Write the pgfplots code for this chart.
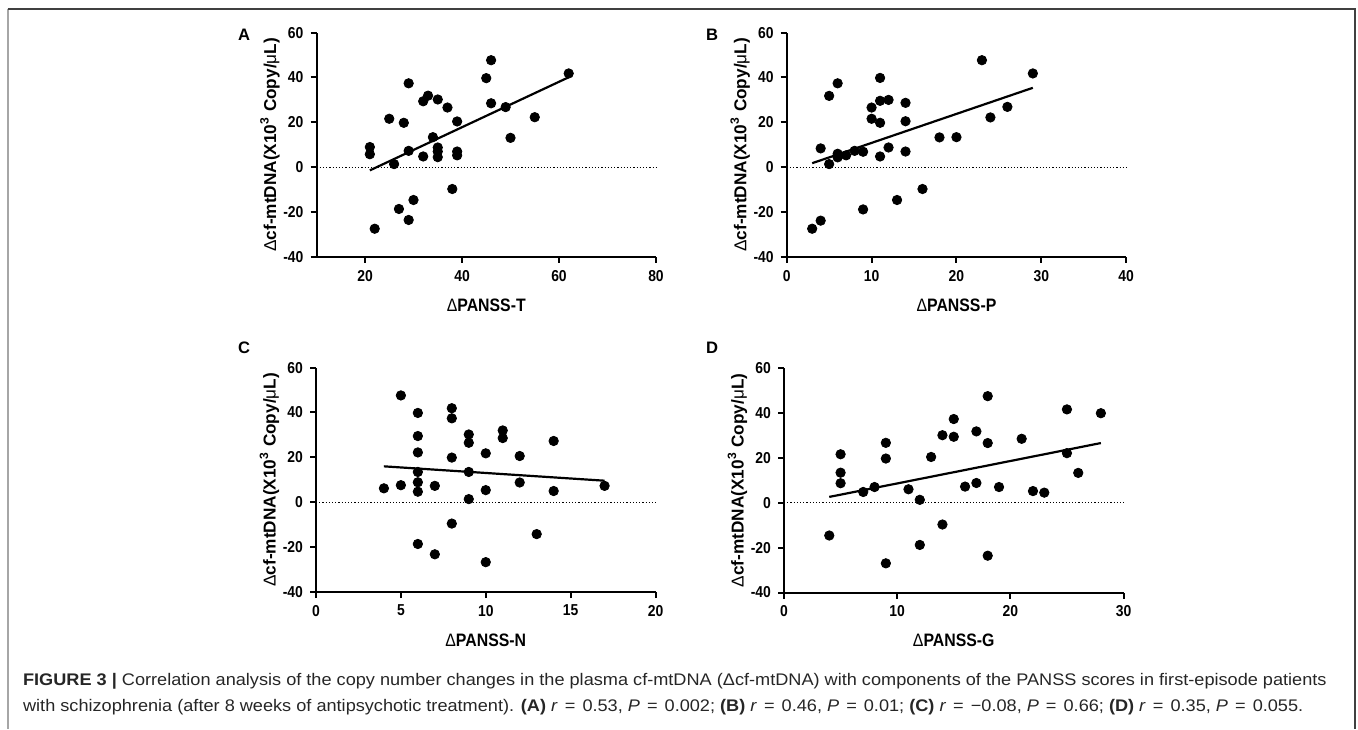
\documentclass[border=0pt]{standalone}
\usepackage{pgfplots}
\pgfplotsset{compat=1.18}
\usepackage{pgfplotstable}
\usepackage{fontspec}
\setmainfont{Liberation Sans}
\newfontfamily\panelfont[FakeStretch=0.88]{Liberation Sans}
\newfontfamily\capfont[FakeStretch=1.08]{Liberation Sans}
\newcommand{\eq}{\kern1pt=\kern1pt}

\pgfplotstableread{
x y
21 9.0
21 5.8
22 -27.4
25 21.6
26 1.4
27 -18.6
28 19.8
29 37.4
29 7.3
29 -23.5
30 -14.6
32 29.4
32 4.8
33 31.9
34 13.4
35 30.2
35 8.8
35 7.0
35 4.5
37 26.6
38 -9.7
39 20.4
39 7.0
39 5.3
45 39.7
46 47.7
46 28.5
49 26.8
50 13.1
55 22.3
62 41.8
}\dataA

\pgfplotstableread{
x y
3 -27.4
4 8.4
4 -23.8
5 31.8
5 1.4
6 37.4
6 6.0
6 4.4
7 5.3
8 7.3
9 6.9
9 -18.8
10 26.6
10 21.6
11 39.8
11 29.6
11 19.8
11 4.8
12 30.0
12 8.8
13 -14.6
14 28.7
14 20.5
14 7.0
16 -9.7
18 13.3
20 13.4
23 47.7
24 22.2
26 26.9
29 41.8
}\dataB

\pgfplotstableread{
x y
4 6.2
5 47.6
5 7.6
6 39.8
6 29.5
6 22.2
6 13.5
6 8.9
6 4.7
6 -18.6
7 7.3
7 -23.2
8 41.9
8 37.4
8 19.9
8 -9.5
9 30.2
9 26.5
9 13.5
9 1.4
10 21.8
10 5.4
10 -26.7
11 32.0
11 28.6
12 20.6
12 8.8
13 -14.2
14 27.3
14 5.0
17 7.3
}\dataC

\pgfplotstableread{
x y
4 -14.6
5 21.6
5 13.4
5 8.7
7 4.8
8 7.0
9 26.7
9 19.7
9 -27.0
11 6.0
12 1.3
12 -18.8
13 20.4
14 30.1
14 -9.7
15 37.3
15 29.4
16 7.2
17 31.8
17 8.8
18 47.5
18 26.6
18 -23.6
19 7.0
21 28.5
22 5.2
23 4.5
25 41.6
25 22.1
26 13.3
28 39.9
}\dataD

\pgfplotsset{
 panel/.style={
  scale only axis, width=169.75pt, height=112.2pt,
  axis x line=bottom, axis y line=left,
  axis line style={line width=1pt, -},
  ymin=-40, ymax=60, ytick={-40,-20,...,60},
  tick align=outside, major tick length=3pt,
  every tick/.style={line width=1pt, black},
  tick label style={font=\panelfont\fontsize{7.9}{9}\selectfont\bfseries},
  /pgf/number format/assume math mode=true,
  ylabel={{\mdseries Δ}cf-mtDNA(X10\textsuperscript{3} Copy/{\mdseries μ}L)},
  every axis y label/.style={at={(axis description cs:-0.137,0.5)}, rotate=90, anchor=center, font=\fontsize{8.6}{10}\selectfont\bfseries},
  every axis x label/.style={at={(axis description cs:0.5,-0.214)}, anchor=center, font=\panelfont\fontsize{9}{10}\selectfont\bfseries},
  clip=false,
  anchor=south west,
 },
 dots/.style={only marks, mark=*, mark size=2.35pt, black},
 reg/.style={black, line width=1.1pt},
 zero/.style={black, densely dotted, line width=0.6pt},
}

\begin{document}
\begin{tikzpicture}[x=0.5pt,y=0.5pt]
\path[use as bounding box] (0,0) rectangle (1358,729);
\draw[gray!70, line width=1pt] (7.5,720) -- (7.5,0);
\draw[black!75, line width=1pt] (7.5,720) -- (1355,720) -- (1355,0);

% Panel A
\begin{axis}[panel, at={(158.25pt,236pt)}, xmin=10, xmax=80, xtick={20,40,60,80}, xlabel={{\mdseries Δ}PANSS-T}]
\addplot[zero] coordinates {(10,0) (80,0)};
\addplot[reg] coordinates {(21,-1.4) (62,40.1)};
\addplot[dots] table[x=x,y=y] {\dataA};
\end{axis}

% Panel B
\begin{axis}[panel, at={(393.35pt,236pt)}, xmin=0, xmax=40, xtick={0,10,20,30,40}, xlabel={{\mdseries Δ}PANSS-P}]
\addplot[zero] coordinates {(0,0) (40,0)};
\addplot[reg] coordinates {(3,1.8) (29,35.4)};
\addplot[dots] table[x=x,y=y] {\dataB};
\end{axis}

% Panel C
\begin{axis}[panel, at={(158pt,68.5pt)}, xmin=0, xmax=20, xtick={0,5,10,15,20}, xlabel={{\mdseries Δ}PANSS-N}]
\addplot[zero] coordinates {(0,0) (20,0)};
\addplot[reg] coordinates {(4,16.0) (17,9.6)};
\addplot[dots] table[x=x,y=y] {\dataC};
\end{axis}

% Panel D
\begin{axis}[panel, at={(392pt,68.25pt)}, xmin=0, xmax=30, xtick={0,10,20,30}, xlabel={{\mdseries Δ}PANSS-G}]
\addplot[zero] coordinates {(0,0) (30,0)};
\addplot[reg] coordinates {(4,2.6) (28,26.6)};
\addplot[dots] table[x=x,y=y] {\dataD};
\end{axis}

\node[font=\fontsize{8.3}{10}\selectfont\bfseries] at (244,694) {A};
\node[font=\fontsize{8.3}{10}\selectfont\bfseries] at (712,694) {B};
\node[font=\fontsize{8.3}{10}\selectfont\bfseries] at (244,381) {C};
\node[font=\fontsize{8.3}{10}\selectfont\bfseries] at (712,381) {D};

\node[anchor=base west, inner sep=0pt, font=\capfont\fontsize{8.4}{10}\selectfont, text=black!85] at (22.7,44) {\textbf{FIGURE 3 |} Correlation analysis of the copy number changes in the plasma cf-mtDNA (Δcf-mtDNA) with components of the PANSS scores in first-episode patients};
\node[anchor=base west, inner sep=0pt, font=\capfont\fontsize{8.4}{10}\selectfont, text=black!85] at (22.7,18) {with schizophrenia (after 8 weeks of antipsychotic treatment). \textbf{(A)} \textit{r} \eq{} 0.53, \textit{P} \eq{} 0.002; \textbf{(B)} \textit{r} \eq{} 0.46, \textit{P} \eq{} 0.01; \textbf{(C)} \textit{r} \eq{} −0.08, \textit{P} \eq{} 0.66; \textbf{(D)} \textit{r} \eq{} 0.35, \textit{P} \eq{} 0.055.};
\end{tikzpicture}
\end{document}
